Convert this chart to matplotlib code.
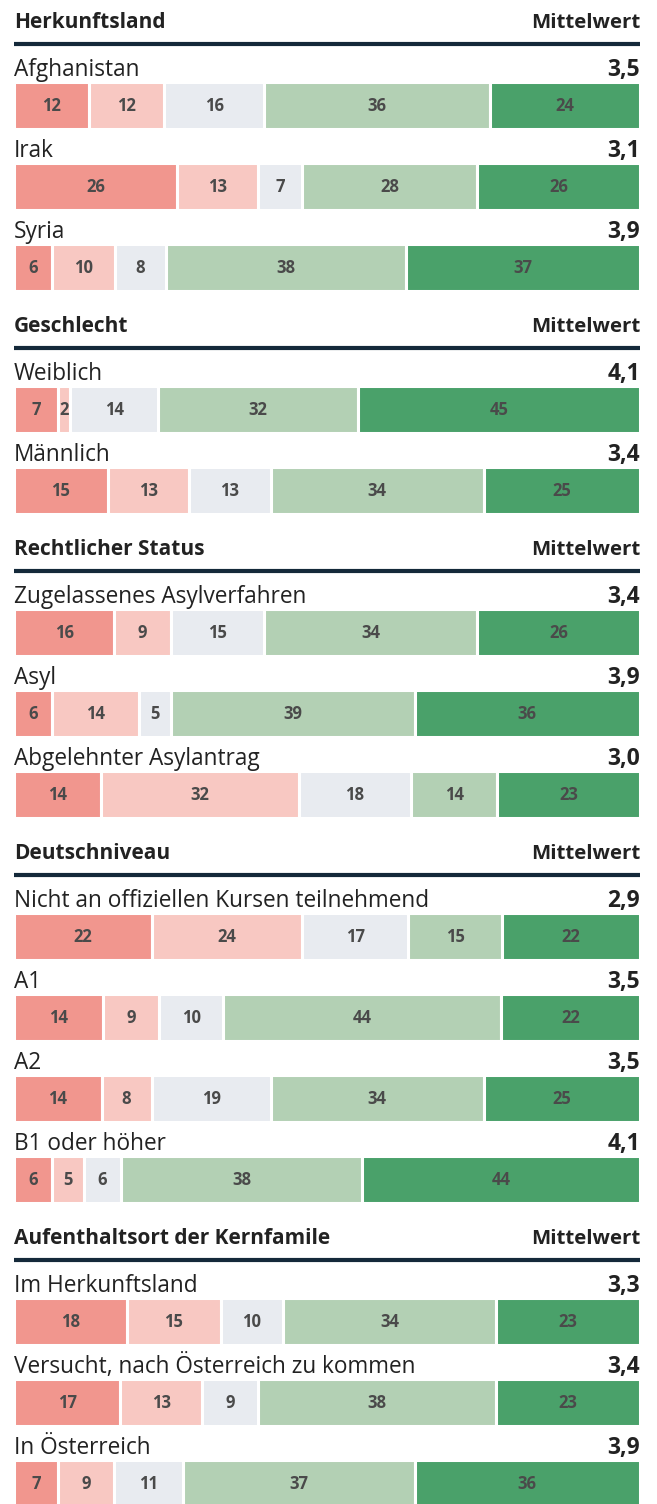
import numpy as np
import matplotlib.pyplot as plt

# Gruppen und Zeilen
gruppen = ["Herkunftsland", "Geschlecht", "Rechtlicher Status", "Deutschniveau",
           "Aufenthaltsort der Kernfamile"]
zeilen = [
    ["Afghanistan", "Irak", "Syria"],
    ["Weiblich", "Männlich"],
    ["Zugelassenes Asylverfahren", "Asyl", "Abgelehnter Asylantrag"],
    ["Nicht an offiziellen Kursen teilnehmend", "A1", "A2", "B1 oder höher"],
    ["Im Herkunftsland", "Versucht, nach Österreich zu kommen", "In Österreich"],
]
# Anteile (%) je Antwortkategorie
werte = [
    [[12, 12, 16, 36, 24], [26, 13, 7, 28, 26], [6, 10, 8, 38, 37]],
    [[7, 2, 14, 32, 45], [15, 13, 13, 34, 25]],
    [[16, 9, 15, 34, 26], [6, 14, 5, 39, 36], [14, 32, 18, 14, 23]],
    [[22, 24, 17, 15, 22], [14, 9, 10, 44, 22], [14, 8, 19, 34, 25], [6, 5, 6, 38, 44]],
    [[18, 15, 10, 34, 23], [17, 13, 9, 38, 23], [7, 9, 11, 37, 36]],
]
mittelwerte = [
    ["3,5", "3,1", "3,9"],
    ["4,1", "3,4"],
    ["3,4", "3,9", "3,0"],
    ["2,9", "3,5", "3,5", "4,1"],
    ["3,3", "3,4", "3,9"],
]
farben = ["#f1968e", "#f8c8c2", "#e8ebf0", "#b3d0b4", "#4aa16a"]

W, H = 657, 1504
fig = plt.figure(figsize=(W / 100, H / 100), dpi=100)
x0, x1 = 14, 640
ax = fig.add_axes([x0 / W, 0, (x1 - x0) / W, 1])
ax.set_xlim(0, 100)
ax.set_ylim(H, 0)
ax.axis("off")

schrift = "Open Sans"
textfarbe = "#222222"

y = 20  # Mittelpunkt der Gruppenüberschrift (Pixel)
for g, name in enumerate(gruppen):
    ax.text(0, y + 8, name, fontsize=15, fontweight="bold", family=schrift,
            color=textfarbe, va="baseline", ha="left")
    ax.text(100, y + 8, "Mittelwert", fontsize=14.7, fontweight="bold", family=schrift,
            color=textfarbe, va="baseline", ha="right")
    ax.plot([0, 100], [y + 24, y + 24], color="#14293a", lw=3, solid_capstyle="butt")
    lab = y + 56  # Grundlinie der ersten Zeilenbeschriftung
    for i, zeile in enumerate(zeilen[g]):
        ax.text(0, lab, zeile, fontsize=16.3, family=schrift, color=textfarbe,
                va="baseline", ha="left")
        ax.text(100, lab, mittelwerte[g][i], fontsize=16.5, fontweight="bold",
                family=schrift, color=textfarbe, va="baseline", ha="right")
        v = np.array(werte[g][i], dtype=float)
        anteil = v / v.sum() * 100
        links = np.concatenate([[0], np.cumsum(anteil)[:-1]])
        mitte = lab + 6 + 23
        ax.barh(mitte, anteil, left=links, height=47, color=farben,
                edgecolor="white", linewidth=2.2)
        for l, a, w in zip(links, anteil, v):
            ax.text(l + a / 2, mitte + 1, f"{int(w)}", fontsize=12, fontweight="bold",
                    family=schrift, color="#4a4a4a", ha="center", va="center")
        lab += 81
    y = lab - 81 + 6 + 47 + 33

fig.savefig("out.png", dpi=100)
